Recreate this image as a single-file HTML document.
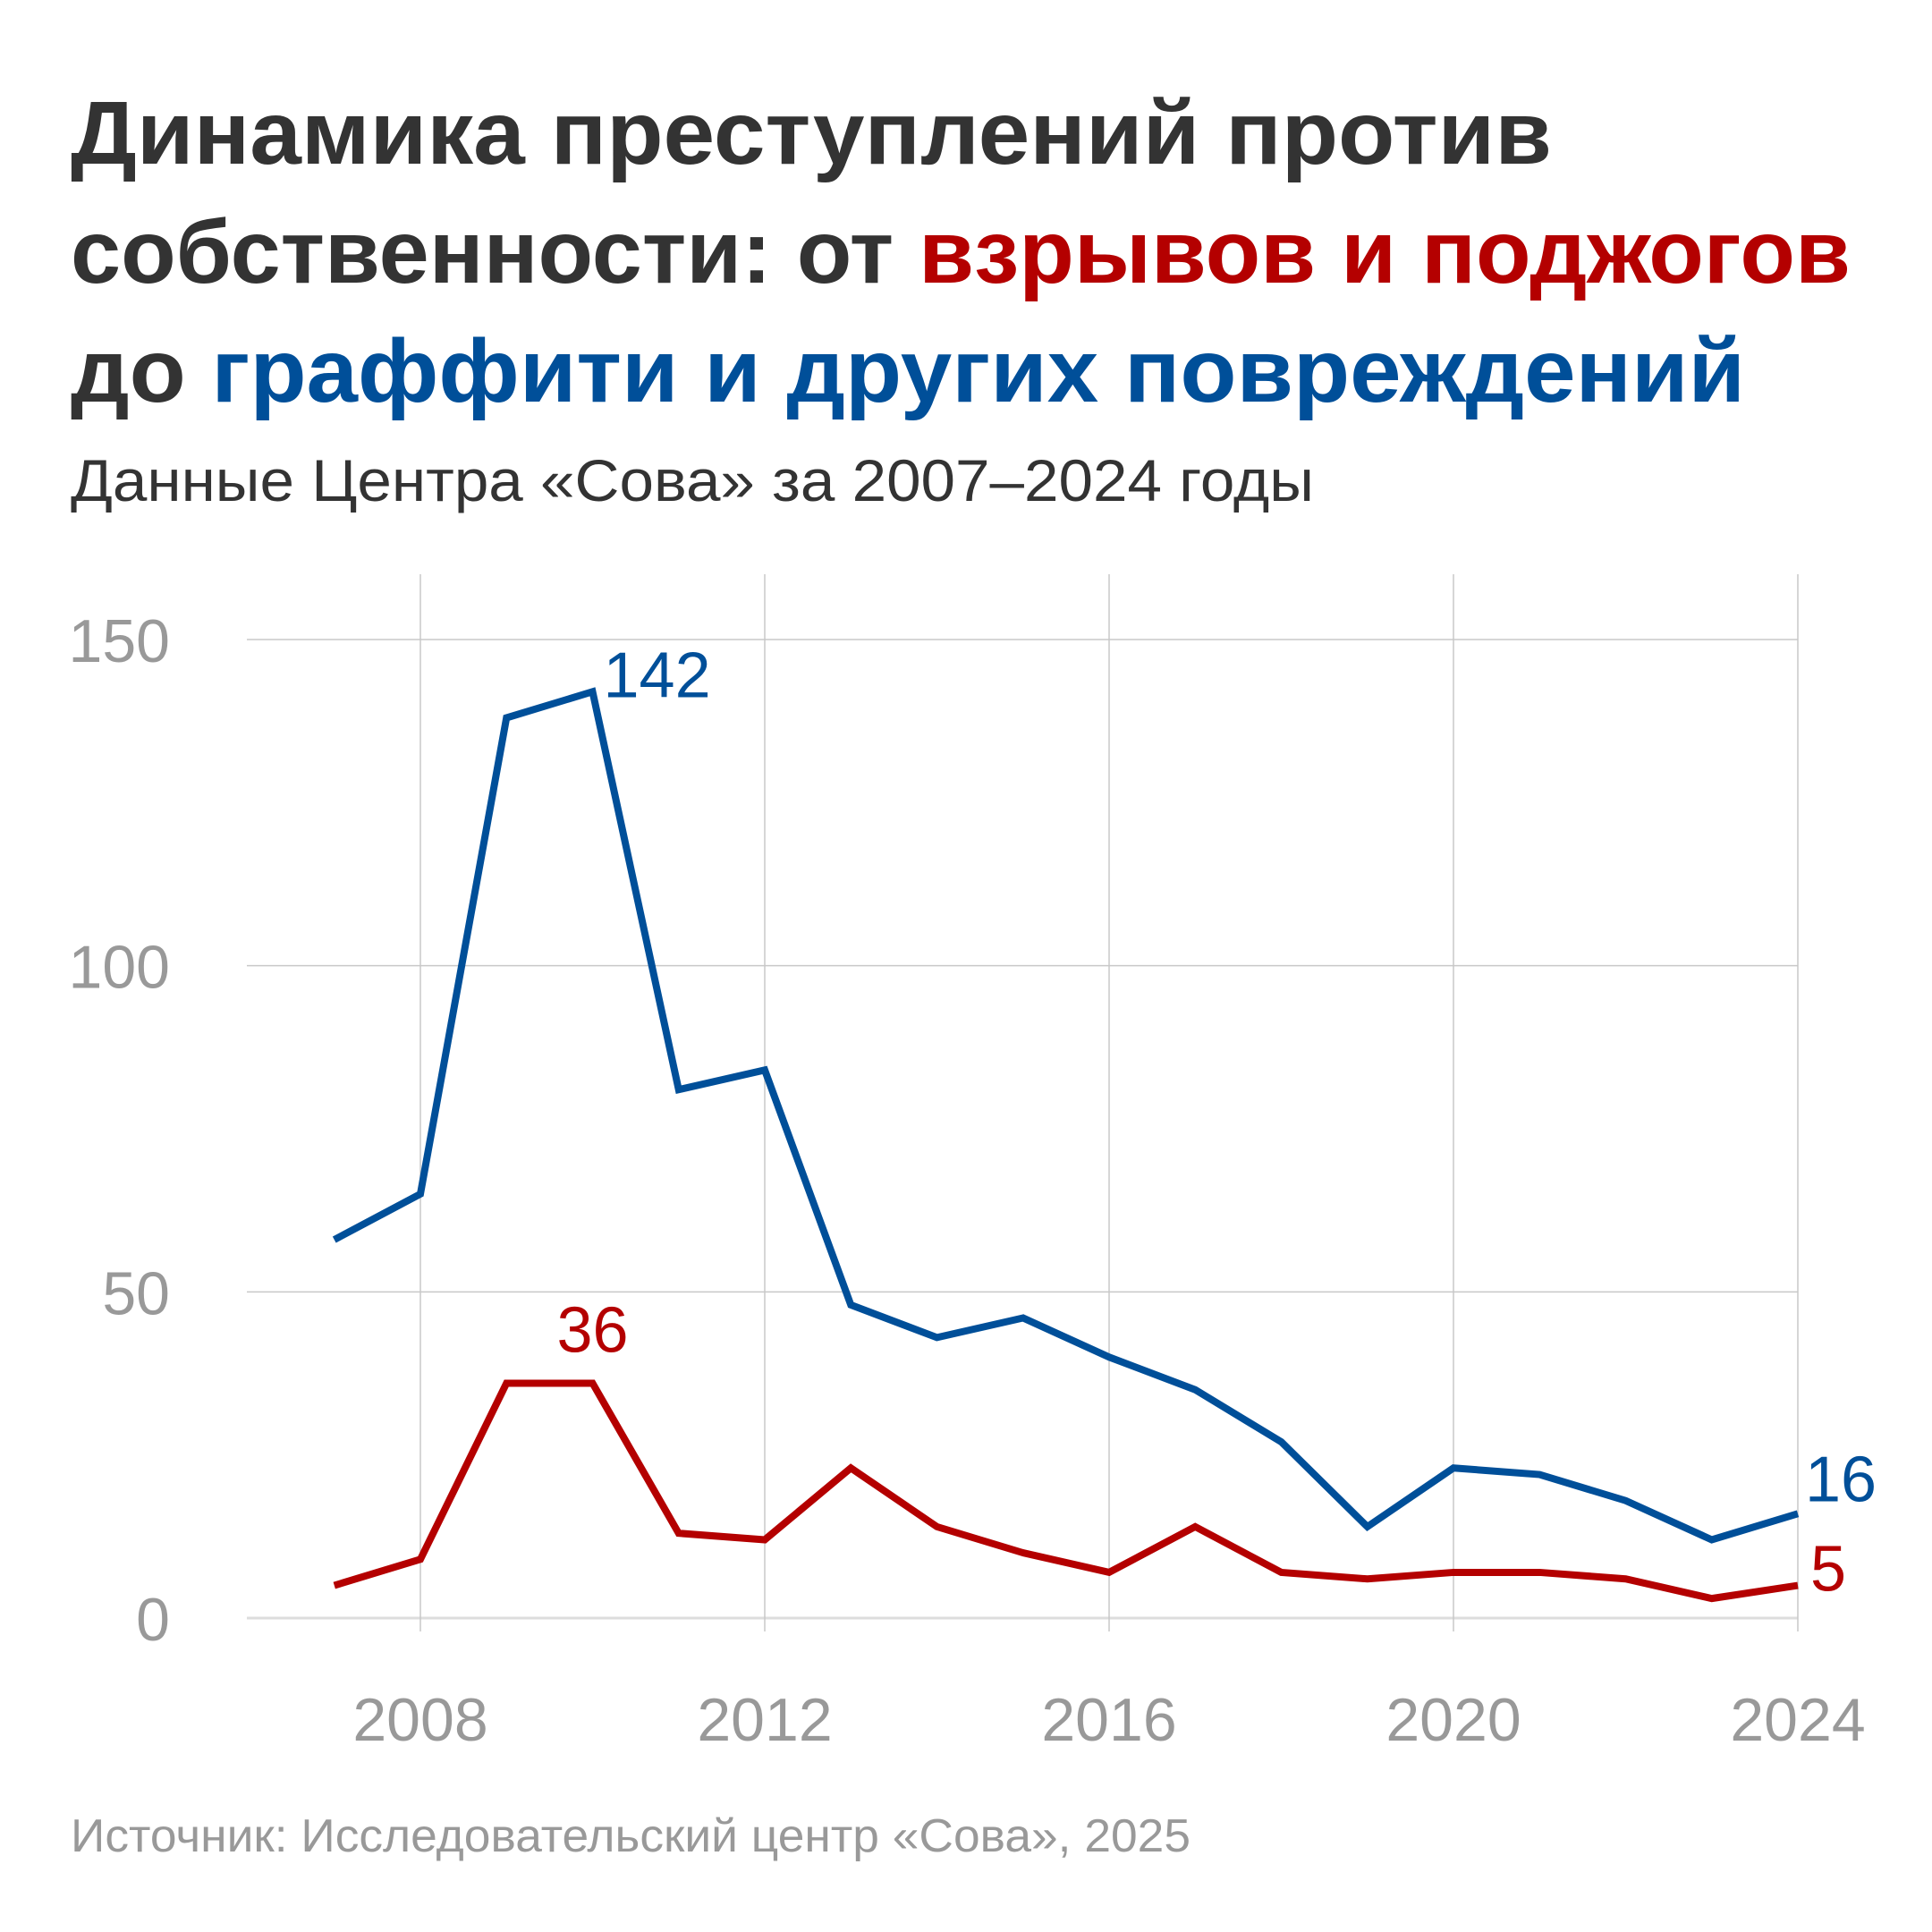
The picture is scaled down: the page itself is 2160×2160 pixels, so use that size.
<!DOCTYPE html>
<html><head><meta charset="utf-8"><style>
html,body{margin:0;padding:0;background:#fff}
svg{display:block}
text{font-family:"Liberation Sans",sans-serif}
</style></head><body>
<svg id="chart" width="2160" height="2160" viewBox="0 0 2160 2160" xmlns="http://www.w3.org/2000/svg">
<g font-weight="bold" font-size="100" fill="#333">
<text x="79" y="183" textLength="1656" lengthAdjust="spacingAndGlyphs">Динамика преступлений против</text>
<text x="79" y="316" textLength="1990" lengthAdjust="spacingAndGlyphs">собственности: от <tspan fill="#b40000">взрывов и поджогов</tspan></text>
<text x="79" y="449" textLength="1872" lengthAdjust="spacingAndGlyphs">до <tspan fill="#004f99">граффити и других повреждений</tspan></text>
</g>
<text x="79" y="560" font-size="66" fill="#333" textLength="1390" lengthAdjust="spacingAndGlyphs">Данные Центра «Сова» за 2007–2024 годы</text>
<g id="grid"></g>
<g id="axes"></g>
<g id="series"></g>
<text x="79" y="2070" font-size="52" fill="#999" textLength="1252" lengthAdjust="spacingAndGlyphs">Источник: Исследовательский центр «Сова», 2025</text>
</svg>
<script>
const years=[2007,2008,2009,2010,2011,2012,2013,2014,2015,2016,2017,2018,2019,2020,2021,2022,2023,2024];
const graffiti=[58,65,138,142,81,84,48,43,46,40,35,27,14,23,22,18,12,16];
const arson=[5,9,36,36,13,12,23,14,10,7,14,7,6,7,7,6,3,5];
const yTicks=[0,50,100,150];
const xTicks=[2008,2012,2016,2020,2024];
const NS="http://www.w3.org/2000/svg";
const X=v=>470+(v-2008)*(2010-470)/16;
const Y=v=>1809-v*(1809-715)/150;
function el(tag,attrs,parent,txt){const e=document.createElementNS(NS,tag);for(const k in attrs)e.setAttribute(k,attrs[k]);if(txt!==undefined)e.textContent=txt;parent.appendChild(e);return e;}
const grid=document.getElementById('grid'),axes=document.getElementById('axes'),series=document.getElementById('series');
yTicks.forEach(t=>{
 const l=el('line',{x1:276,x2:2010,y1:Y(t),y2:Y(t),stroke:t===0?'#ddd':'#c8c8c8','stroke-width':t===0?3:1.5},grid);
 
 
 const tx=el('text',{x:190,y:Y(t)+25,'text-anchor':'end','font-size':68,fill:'#999'},axes,String(t));
 
 
});
xTicks.forEach(t=>{
 const l=el('line',{x1:X(t),x2:X(t),y1:642,y2:1824,stroke:'#c8c8c8','stroke-width':1.5},grid);
 
 
 const tx=el('text',{x:X(t),y:1946,'text-anchor':'middle','font-size':68,fill:'#999'},axes,String(t));
 
 
});
function line(vals,color,name){
 const p=el('polyline',{points:vals.map((v,i)=>X(years[i])+','+Y(v)).join(' '),fill:'none',stroke:color,'stroke-width':8,'stroke-linejoin':'miter'},series);
 
 
}
line(arson,'#b40000','arson-line');
line(graffiti,'#004f99','graffiti-line');
const gMax=graffiti.indexOf(Math.max(...graffiti));
const aMax=arson.lastIndexOf(Math.max(...arson));
const n=years.length-1;
let t;
t=el('text',{x:X(years[gMax])+12,y:Y(graffiti[gMax])+6,'font-size':72,fill:'#004f99'},series,String(graffiti[gMax]));


t=el('text',{x:X(years[aMax]),y:Y(arson[aMax])-35,'font-size':72,fill:'#b40000','text-anchor':'middle'},series,String(arson[aMax]));


t=el('text',{x:X(years[n])+8,y:Y(graffiti[n])-14,'font-size':72,fill:'#004f99'},series,String(graffiti[n]));


t=el('text',{x:X(years[n])+14,y:Y(arson[n])+6,'font-size':72,fill:'#b40000'},series,String(arson[n]));


</script>
</body></html>
